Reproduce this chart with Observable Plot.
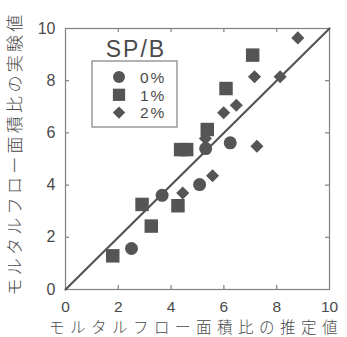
<!DOCTYPE html>
<html><head><meta charset="utf-8">
<script src="https://cdn.jsdelivr.net/npm/d3@7"></script>
<script src="https://cdn.jsdelivr.net/npm/@observablehq/plot@0.6"></script>
<style>
html,body{margin:0;padding:0;background:#fff;}
#chart{position:relative;width:347px;height:337px;}
</style></head>
<body><div id="chart"></div>
<script>
// Data
const seriesNames = ["0%", "1%", "2%"];
const legendTitle = "SP/B";
const xLabel = "モルタルフロー面積比の推定値";
const yLabel = "モルタルフロー面積比の実験値";
const ticks = [0, 2, 4, 6, 8, 10];
const domain = [0, 10];

const x0 = [2.50, 3.66, 5.08, 5.31, 6.24];
const y0 = [1.57, 3.61, 4.02, 5.40, 5.62];

const x1 = [1.79, 2.90, 3.25, 4.26, 4.36, 4.59, 5.37, 6.08, 7.09];
const y1 = [1.29, 3.26, 2.43, 3.21, 5.36, 5.36, 6.13, 7.70, 8.98];

const x2 = [4.44, 5.57, 5.30, 5.99, 6.47, 7.16, 7.25, 8.13, 8.80];
const y2 = [3.70, 4.36, 5.79, 6.77, 7.06, 8.15, 5.49, 8.15, 9.64];

const W = 347, H = 337;
const mt = 28, mr = 18, mb = 48, ml = 65;
const pw = W - ml - mr, ph = H - mt - mb;
const ink = "#555";
const frameCol = "#808080";
const textCol = "#4a4a4a";
const font = "'Liberation Sans', Arial, 'Noto Sans CJK JP', sans-serif";
const cjk = "'Noto Sans CJK JP', sans-serif";

const pts = (xs, ys) => xs.map((x, i) => ({x, y: ys[i]}));
const s0 = pts(x0, y0), s1 = pts(x1, y1), s2 = pts(x2, y2);
const inner = ticks.slice(1, -1);

const plot = Plot.plot({
  width: W, height: H,
  marginTop: mt, marginRight: mr, marginBottom: mb, marginLeft: ml,
  x: {domain}, y: {domain},
  style: {fontFamily: font, color: textCol, background: "#fff"},
  marks: [
    Plot.frame({stroke: frameCol, strokeWidth: 1.2}),
    Plot.ruleX(inner, {x: d => d, insetTop: ph - 4, stroke: frameCol, strokeWidth: 1.2}),
    Plot.ruleX(inner, {x: d => d, insetBottom: ph - 4, stroke: frameCol, strokeWidth: 1.2}),
    Plot.ruleY(inner, {y: d => d, insetRight: pw - 4, stroke: frameCol, strokeWidth: 1.2}),
    Plot.ruleY(inner, {y: d => d, insetLeft: pw - 4, stroke: frameCol, strokeWidth: 1.2}),
    Plot.axisX(ticks, {anchor: "bottom", tickSize: 0, tickPadding: 11, fontSize: 15.5, label: null, fill: textCol}),
    Plot.axisY(ticks, {anchor: "left", tickSize: 0, tickPadding: 10, fontSize: 16, label: null, fill: textCol}),
    Plot.line(domain, {x: d => d, y: d => d, stroke: ink, strokeWidth: 2.2}),
    Plot.dot(s2, {x: "x", y: "y", symbol: "diamond2", r: 5.9, fill: ink, stroke: "none"}),
    Plot.dot(s1, {x: "x", y: "y", symbol: "square", r: 7.6, fill: ink, stroke: "none"}),
    Plot.dot(s0, {x: "x", y: "y", symbol: "circle", r: 6.5, fill: ink, stroke: "none"})
  ]
});
document.getElementById("chart").appendChild(plot);

const svg = d3.select(plot);
// Axis titles
svg.append("text")
  .attr("x", ml + pw / 2 - 1).attr("y", 332.5)
  .attr("text-anchor", "middle")
  .style("font-family", cjk).style("font-weight", "300")
  .style("font-size", "15.5px").style("letter-spacing", "5.5px")
  .attr("fill", textCol).text(xLabel);
svg.append("text")
  .attr("transform", `translate(21, ${mt + ph / 2 - 5}) rotate(-90)`)
  .attr("text-anchor", "middle")
  .style("font-family", cjk).style("font-weight", "300")
  .style("font-size", "17px").style("letter-spacing", "3.3px")
  .attr("fill", textCol).text(yLabel);

// Legend
const lg = svg.append("g");
lg.append("rect").attr("x", 92).attr("y", 61).attr("width", 85).attr("height", 66)
  .attr("fill", "#fff").attr("stroke", frameCol).attr("stroke-width", 1.2);
lg.append("text").attr("x", 136).attr("y", 57).attr("text-anchor", "middle")
  .style("font-family", font).style("font-size", "23px").style("letter-spacing", "2px")
  .attr("fill", textCol).text(legendTitle);
const syms = [d3.symbolCircle, d3.symbolSquare, d3.symbolDiamond2];
const sizes = [Math.PI * 6 * 6, Math.PI * 6.9 * 6.9, Math.PI * 5.6 * 5.6];
seriesNames.forEach((name, i) => {
  const cy = 77 + i * 17.8;
  lg.append("path").attr("transform", `translate(119, ${cy})`)
    .attr("d", d3.symbol(syms[i], sizes[i])()).attr("fill", ink);
  lg.append("text").attr("x", 140).attr("y", cy + 5.8).attr("text-anchor", "start")
    .style("font-family", font).style("font-size", "15.5px").style("letter-spacing", "2px")
    .attr("fill", textCol).text(name);
});
</script></body></html>
